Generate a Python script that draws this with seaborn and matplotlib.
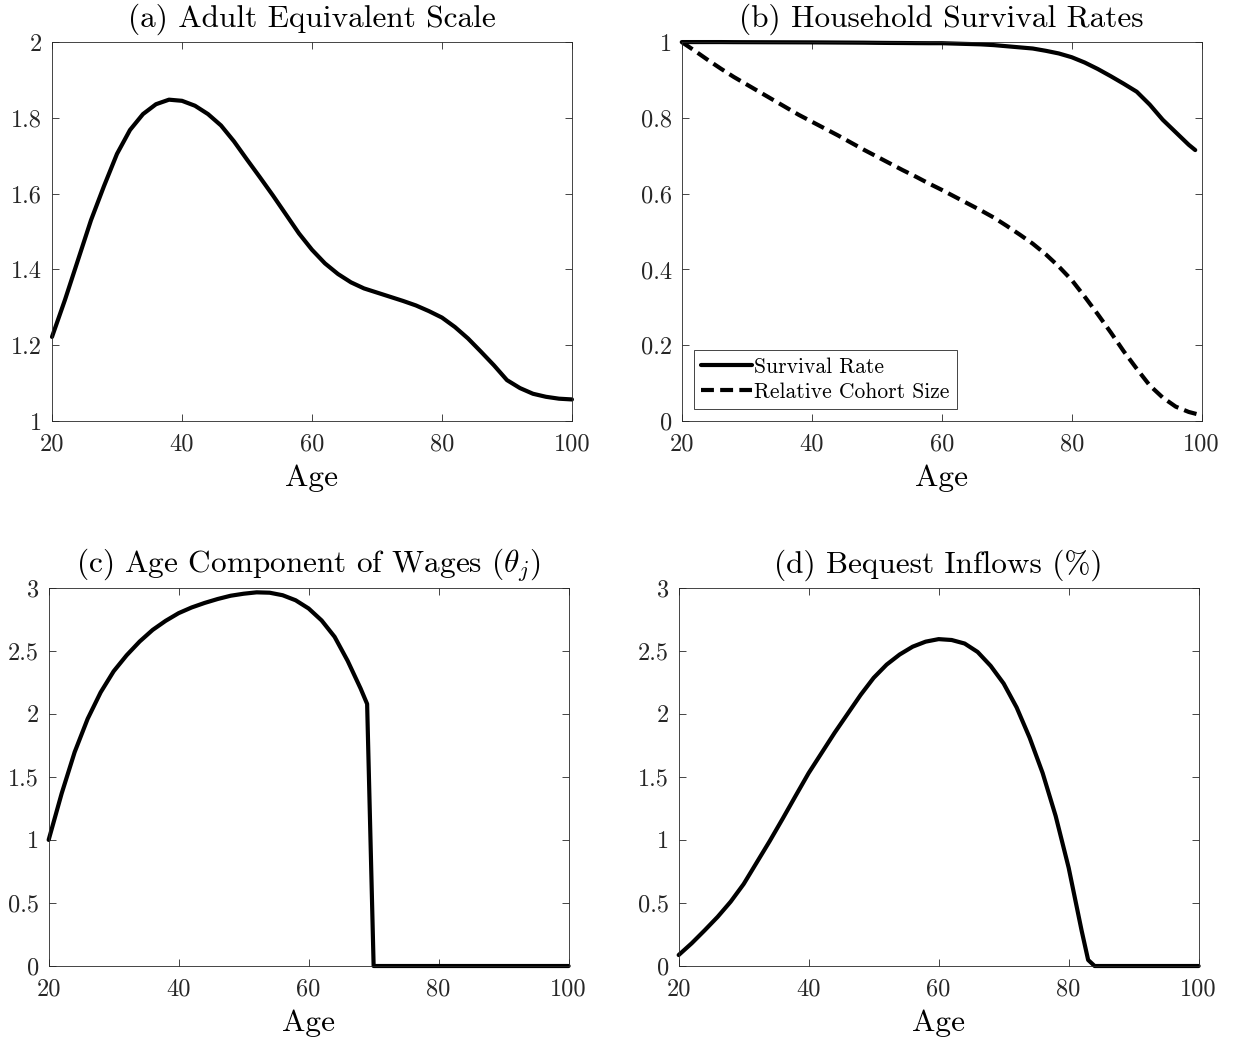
import numpy as np
import pandas as pd
import matplotlib
matplotlib.use("Agg")
import matplotlib.pyplot as plt
import seaborn as sns

# ---------------- data ----------------
ages_a = list(range(20, 101, 2))
equiv_scale = [1.222, 1.32, 1.425, 1.53, 1.62, 1.705, 1.768, 1.81, 1.836, 1.848,
               1.845, 1.832, 1.81, 1.78, 1.738, 1.69, 1.643, 1.595, 1.545, 1.495,
               1.452, 1.416, 1.388, 1.366, 1.35, 1.339, 1.328, 1.317, 1.305, 1.29,
               1.273, 1.248, 1.218, 1.183, 1.147, 1.108, 1.087, 1.072, 1.064, 1.059,
               1.057]

ages_surv = list(range(20, 99, 2)) + [99]
survival_rate = [1.0, 1.0, 1.0, 1.0, 0.9998, 0.9997, 0.9996, 0.9995, 0.9994, 0.9993,
                 0.9992, 0.999, 0.9988, 0.9986, 0.9984, 0.998, 0.9977, 0.9975, 0.9972, 0.997,
                 0.997, 0.996, 0.995, 0.994, 0.992, 0.989, 0.986, 0.983, 0.977, 0.970,
                 0.960, 0.946, 0.929, 0.910, 0.890, 0.869, 0.835, 0.795, 0.762, 0.729,
                 0.715]

ages_cohort = list(range(20, 101, 2))
cohort_size = [1.0, 0.977, 0.953, 0.93, 0.908, 0.888, 0.868, 0.848, 0.828, 0.808,
               0.79, 0.772, 0.754, 0.735, 0.716, 0.698, 0.68, 0.662, 0.645, 0.627,
               0.61, 0.592, 0.574, 0.556, 0.537, 0.515, 0.492, 0.468, 0.44, 0.408,
               0.372, 0.328, 0.282, 0.234, 0.184, 0.138, 0.094, 0.062, 0.038, 0.024,
               0.015]

ages_theta = list(range(20, 69, 2)) + [69, 70] + list(range(72, 101, 2))
theta_wage = [1.0, 1.368, 1.696, 1.96, 2.17, 2.337, 2.464, 2.573, 2.665, 2.737,
              2.798, 2.843, 2.879, 2.91, 2.936, 2.952, 2.963, 2.96, 2.94, 2.90,
              2.835, 2.74, 2.61, 2.42, 2.2, 2.078, 0.0,
              0, 0, 0, 0, 0, 0, 0, 0, 0, 0, 0, 0, 0, 0, 0]

ages_beq = list(range(20, 83, 2)) + [83, 84] + list(range(86, 101, 2))
bequest = [0.087, 0.18, 0.283, 0.39, 0.51, 0.65, 0.82, 0.99, 1.168, 1.35,
           1.53, 1.69, 1.85, 2.0, 2.15, 2.285, 2.39, 2.47, 2.532, 2.572,
           2.592, 2.585, 2.557, 2.49, 2.38, 2.24, 2.05, 1.81, 1.53, 1.19,
           0.78, 0.28, 0.048, 0.0,
           0, 0, 0, 0, 0, 0, 0, 0]

titles = ["(a) Adult Equivalent Scale", "(b) Household Survival Rates",
          r"(c) Age Component of Wages ($\theta_j$)", "(d) Bequest Inflows (%)"]
series_names = ["Survival Rate", "Relative Cohort Size"]
x_ticks = [20, 40, 60, 80, 100]
x_ticklabels = ["20", "40", "60", "80", "100"]
yticks_a = [1, 1.2, 1.4, 1.6, 1.8, 2]
yticklabels_a = ["1", "1.2", "1.4", "1.6", "1.8", "2"]
yticks_b = [0, 0.2, 0.4, 0.6, 0.8, 1]
yticklabels_b = ["0", "0.2", "0.4", "0.6", "0.8", "1"]
yticks_cd = [0, 0.5, 1, 1.5, 2, 2.5, 3]
yticklabels_cd = ["0", "0.5", "1", "1.5", "2", "2.5", "3"]

# ---------------- style ----------------
sns.set_theme(style="ticks")
plt.rcParams.update({
    "font.family": ["cmr10"],
    "mathtext.fontset": "cm",
    "axes.formatter.use_mathtext": True,
    "axes.edgecolor": "#262626",
    "axes.linewidth": 0.6,
    "text.color": "black",
})

fig = plt.figure(figsize=(12.38, 10.44), dpi=100)
positions = [
    [0.0420, 0.5967, 0.4200, 0.3630],
    [0.5507, 0.5967, 0.4200, 0.3630],
    [0.0393, 0.0747, 0.4200, 0.3624],
    [0.5482, 0.0747, 0.4200, 0.3624],
]
axes = [fig.add_axes(p) for p in positions]
LW = 3.0

# (a)
df_a = pd.DataFrame({"Age": ages_a, "v": equiv_scale})
sns.lineplot(data=df_a, x="Age", y="v", ax=axes[0], color="black", lw=LW,
             errorbar=None, clip_on=False)
axes[0].set_ylim(1, 2)
axes[0].set_yticks(yticks_a)
axes[0].set_yticklabels(yticklabels_a)

# (b)
df_b = pd.concat([
    pd.DataFrame({"Age": ages_surv, "v": survival_rate, "series": series_names[0]}),
    pd.DataFrame({"Age": ages_cohort, "v": cohort_size, "series": series_names[1]}),
])
sns.lineplot(data=df_b, x="Age", y="v", style="series", ax=axes[1], color="black",
             lw=LW, errorbar=None, clip_on=False,
             dashes={series_names[0]: "", series_names[1]: (3.1, 1.5)})
axes[1].set_ylim(0, 1)
axes[1].set_yticks(yticks_b)
axes[1].set_yticklabels(yticklabels_b)
h, l = axes[1].get_legend_handles_labels()
leg = axes[1].legend(h, l, loc="lower left", frameon=True, fancybox=False,
                     edgecolor="#262626", framealpha=1, fontsize=15.5,
                     handlelength=2.35, handletextpad=0.1, borderpad=0.35,
                     labelspacing=0.25, borderaxespad=0.55)
leg.get_frame().set_linewidth(0.6)

# (c)
df_c = pd.DataFrame({"Age": ages_theta, "v": theta_wage})
sns.lineplot(data=df_c, x="Age", y="v", ax=axes[2], color="black", lw=LW,
             errorbar=None, clip_on=False)
axes[2].set_ylim(0, 3)
axes[2].set_yticks(yticks_cd)
axes[2].set_yticklabels(yticklabels_cd)

# (d)
df_d = pd.DataFrame({"Age": ages_beq, "v": bequest})
sns.lineplot(data=df_d, x="Age", y="v", ax=axes[3], color="black", lw=LW,
             errorbar=None, clip_on=False)
axes[3].set_ylim(0, 3)
axes[3].set_yticks(yticks_cd)
axes[3].set_yticklabels(yticklabels_cd)

for ax, t in zip(axes, titles):
    ax.set_xlim(20, 100)
    ax.set_xticks(x_ticks)
    ax.set_xticklabels(x_ticklabels)
    ax.set_title(t, fontsize=22.5, pad=11, color="black")
    ax.set_xlabel("Age", fontsize=22.5, labelpad=6, color="black")
    ax.set_ylabel("")
    ax.tick_params(direction="in", top=True, right=True, length=5, width=0.6,
                   colors="#262626", labelcolor="#262626", labelsize=17.5)
    ax.tick_params(axis="x", pad=9)
    ax.tick_params(axis="y", pad=7)
    for s in ax.spines.values():
        s.set_visible(True)
        s.set_color("#262626")
        s.set_linewidth(0.6)

fig.savefig("out.png", dpi=100)
